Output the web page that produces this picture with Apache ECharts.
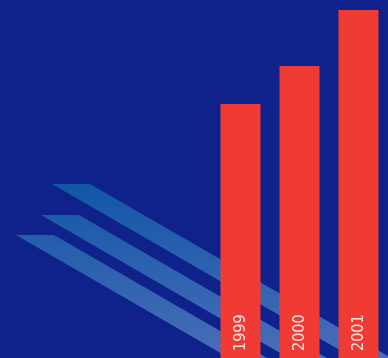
<!DOCTYPE html>
<html>
<head>
<meta charset="utf-8">
<script src="https://cdn.jsdelivr.net/npm/echarts@6/dist/echarts.min.js"></script>
<style>html,body{margin:0;padding:0;background:#0f218a;}#c{width:388px;height:358px;}</style>
</head>
<body>
<div id="c"></div>
<script>
const years = ['1999', '2000', '2001'];
const values = [254, 292, 348];
const axisMax = 358;

const chart = echarts.init(document.getElementById('c'), null, {renderer: 'canvas'});
const stripeFill = {
  type: 'linear', x: 0, y: 184, x2: 0, y2: 358, global: true,
  colorStops: [{offset: 0, color: '#1157a7'}, {offset: 1, color: '#4a6db8'}]
};
function stripe(x1, x2, y) {
  const dy = 420 - y, dx = dy / 0.577;
  return {
    type: 'polygon', z: -10, silent: true,
    shape: {points: [[x1, y], [x2, y], [x2 + dx, 420], [x1 + dx, 420]]},
    style: {fill: stripeFill}
  };
}
chart.setOption({
  backgroundColor: '#0f218a',
  animation: false,
  graphic: [stripe(52, 90, 184), stripe(41, 79, 215), stripe(16, 54, 235)],
  grid: {left: 211, width: 182, top: 0, bottom: 0, containLabel: false},
  xAxis: {
    type: 'category', data: years,
    axisLine: {show: false}, axisTick: {show: false}, axisLabel: {show: false}
  },
  yAxis: {
    type: 'value', min: 0, max: axisMax,
    show: false, splitLine: {show: false}
  },
  series: [{
    type: 'bar', data: values, barWidth: 40, z: 5,
    itemStyle: {color: '#ef3b33'},
    label: {
      show: true, formatter: '{b}', position: 'insideBottom', distance: 7,
      rotate: 90, align: 'left', verticalAlign: 'middle',
      color: 'rgba(255,255,255,0.85)', fontSize: 16,
      fontFamily: "'Liberation Sans Narrow', 'DejaVu Sans Condensed', sans-serif", fontWeight: 'normal'
    }
  }]
});
</script>
</body>
</html>
